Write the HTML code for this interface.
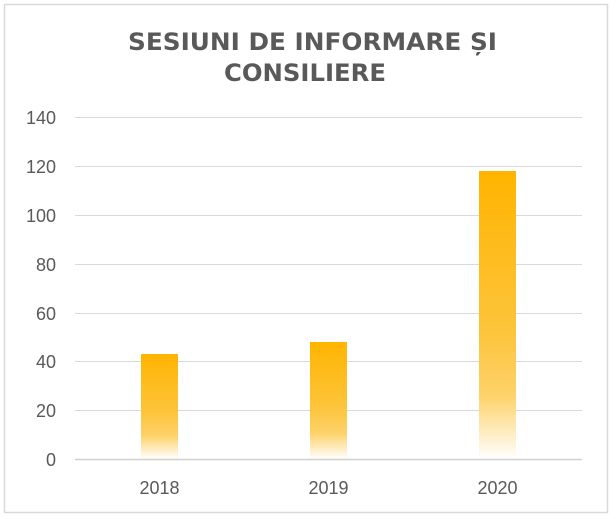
<!DOCTYPE html>
<html><head><meta charset="utf-8"><style>
html,body{margin:0;padding:0;background:#fff;}
svg{display:block;}
</style></head><body>
<svg width="616" height="519" xmlns="http://www.w3.org/2000/svg">
<defs>
<linearGradient id="g" x1="0" y1="0" x2="0" y2="1">
<stop offset="0" stop-color="#FFB400"/>
<stop offset="0.55" stop-color="#FDC43A"/>
<stop offset="0.78" stop-color="#FDD26A"/>
<stop offset="1" stop-color="#FFFFFF"/>
</linearGradient>
</defs>
<rect x="4.5" y="4.5" width="603" height="508" fill="#fff" stroke="#d9d9d9" stroke-width="1.5"/>
<g font-family="'DejaVu Sans', 'Liberation Sans', sans-serif" font-weight="bold" fill="#595959" font-size="24">
<text x="128" y="50" textLength="369" lengthAdjust="spacingAndGlyphs">SESIUNI DE INFORMARE ȘI</text>
<text x="224" y="81" textLength="162" lengthAdjust="spacingAndGlyphs">CONSILIERE</text>
</g>
<g stroke="#d9d9d9" stroke-width="1">
<line x1="75" x2="582" y1="117.5" y2="117.5"/>
<line x1="75" x2="582" y1="166.5" y2="166.5"/>
<line x1="75" x2="582" y1="215.5" y2="215.5"/>
<line x1="75" x2="582" y1="264.5" y2="264.5"/>
<line x1="75" x2="582" y1="313.5" y2="313.5"/>
<line x1="75" x2="582" y1="361.5" y2="361.5"/>
<line x1="75" x2="582" y1="410.5" y2="410.5"/>
</g>
<rect x="141" y="354" width="37" height="105" fill="url(#g)"/>
<rect x="310" y="342" width="37" height="117" fill="url(#g)"/>
<rect x="479" y="171" width="37" height="288" fill="url(#g)"/>
<line x1="75" x2="582" y1="459.5" y2="459.5" stroke="#d0d0d0" stroke-width="1.5"/>
<g font-family="'Liberation Sans', sans-serif" font-size="18" fill="#595959" text-anchor="end">
<text x="56" y="124">140</text>
<text x="56" y="173">120</text>
<text x="56" y="222">100</text>
<text x="56" y="271">80</text>
<text x="56" y="320">60</text>
<text x="56" y="368">40</text>
<text x="56" y="417">20</text>
<text x="56" y="466">0</text>
</g>
<g font-family="'Liberation Sans', sans-serif" font-size="18" fill="#595959" text-anchor="middle">
<text x="159.5" y="494">2018</text>
<text x="328.5" y="494">2019</text>
<text x="497.5" y="494">2020</text>
</g>
</svg>
</body></html>
